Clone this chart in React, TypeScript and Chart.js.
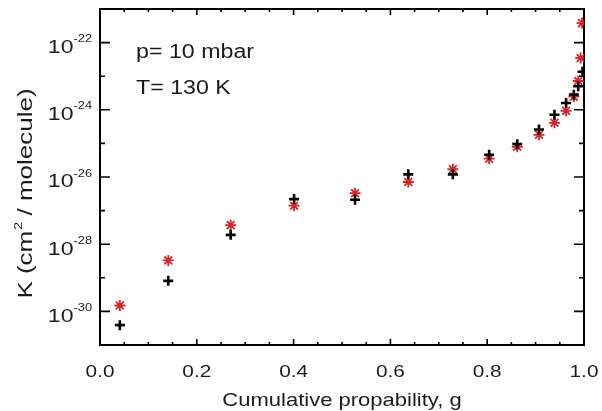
import React, { useEffect, useRef } from 'react';
import { Chart, registerables } from 'chart.js';

Chart.register(...registerables);

// Cumulative probability g (x) and absorption coefficient K (y)
const gBlack = [0.041, 0.141, 0.270, 0.401, 0.527, 0.637, 0.729, 0.804, 0.862, 0.907, 0.939, 0.963, 0.979, 0.988, 0.997];
const kBlack = [3.9e-31, 8.1e-30, 1.9e-28, 2.2e-27, 2.1e-27, 1.2e-26, 1.2e-26, 4.6e-26, 9.5e-26, 2.6e-25, 7.1e-25, 1.6e-24, 2.8e-24, 5.0e-24, 1.35e-23];
const gRed = [0.041, 0.141, 0.270, 0.401, 0.527, 0.637, 0.729, 0.804, 0.862, 0.907, 0.939, 0.963, 0.979, 0.988, 0.993, 0.996];
const kRed = [1.5e-30, 3.3e-29, 3.7e-28, 1.4e-27, 3.3e-27, 7.1e-27, 1.7e-26, 3.5e-26, 7.9e-26, 1.8e-25, 4.1e-25, 9.3e-25, 2.45e-24, 7.2e-24, 3.5e-23, 3.8e-22];

const xTickLabels = ['0.0', '0.2', '0.4', '0.6', '0.8', '1.0'];
const yExponents = [-31, -30, -29, -28, -27, -26, -25, -24, -23, -22, -21];
const yLabelExponents = [-30, -28, -26, -24, -22];
const annotationLines = ['p= 10 mbar', 'T= 130 K'];
const xTitle = 'Cumulative propability, g';
const yTitleParts = ['K (cm', '2', ' / molecule)'];

const FONT = '"Liberation Sans", Arial, Helvetica, sans-serif';
const TEXT = '#1c1c1c';
const RED = '#d8242a';

// draws text widened horizontally by factor k (the reference uses a wide sans face)
function wideText(ctx: CanvasRenderingContext2D, text: string, x: number, y: number, k: number, align: CanvasTextAlign) {
  ctx.save();
  ctx.translate(x, y);
  ctx.scale(k, 1);
  ctx.textAlign = align;
  ctx.fillText(text, 0, 0);
  ctx.restore();
  return ctx.measureText(text).width * k;
}

const framePlugin = {
  id: 'framePlugin',
  beforeDatasetsDraw(chart: any) {
    const { ctx, chartArea: a, scales } = chart;
    const x = scales.x;
    const y = scales.y;
    ctx.save();
    ctx.strokeStyle = '#000';
    ctx.lineWidth = 2;
    ctx.strokeRect(a.left, a.top, a.right - a.left, a.bottom - a.top);
    ctx.lineWidth = 1.6;
    ctx.beginPath();
    for (let i = 0; i <= 20; i++) {
      const px = x.getPixelForValue(i * 0.05);
      const len = i % 4 === 0 ? 6 : 3;
      ctx.moveTo(px, a.bottom);
      ctx.lineTo(px, a.bottom - len);
      ctx.moveTo(px, a.top);
      ctx.lineTo(px, a.top + len);
    }
    yExponents.forEach((e) => {
      const py = y.getPixelForValue(Math.pow(10, e));
      const len = e % 2 === 0 ? 10 : 5;
      ctx.moveTo(a.left, py);
      ctx.lineTo(a.left + len, py);
      ctx.moveTo(a.right, py);
      ctx.lineTo(a.right - len, py);
    });
    ctx.stroke();
    ctx.restore();
  },
  afterDraw(chart: any) {
    const { ctx, chartArea: a, scales } = chart;
    const x = scales.x;
    const y = scales.y;
    ctx.save();
    ctx.fillStyle = TEXT;
    ctx.textBaseline = 'alphabetic';

    // y tick labels 10^n
    yLabelExponents.forEach((e) => {
      const py = y.getPixelForValue(Math.pow(10, e));
      const right = a.left - 8;
      ctx.font = `10.5px ${FONT}`;
      const ws = wideText(ctx, String(e), right, py - 0.5, 1.22, 'right');
      ctx.font = `18px ${FONT}`;
      wideText(ctx, '10', right - ws, py + 10.3, 1.28, 'right');
    });

    // x tick labels
    ctx.font = `16.5px ${FONT}`;
    xTickLabels.forEach((t) => {
      const px = x.getPixelForValue(parseFloat(t));
      wideText(ctx, t, px, 377, 1.26, 'center');
    });

    // x title
    ctx.font = `18.5px ${FONT}`;
    wideText(ctx, xTitle, (a.left + a.right) / 2, 406, 1.19, 'center');

    // y title (rotated)
    ctx.save();
    ctx.translate(32, 193.5);
    ctx.rotate(-Math.PI / 2);
    const k = 1.3;
    ctx.font = `20px ${FONT}`;
    const w1 = ctx.measureText(yTitleParts[0]).width * k;
    const w3 = ctx.measureText(yTitleParts[2]).width * k;
    ctx.font = `11px ${FONT}`;
    const w2 = ctx.measureText(yTitleParts[1]).width * k;
    let sx = -(w1 + w2 + w3) / 2;
    ctx.font = `20px ${FONT}`;
    wideText(ctx, yTitleParts[0], sx, 0, k, 'left');
    sx += w1;
    ctx.font = `11px ${FONT}`;
    wideText(ctx, yTitleParts[1], sx + 1, -10, k, 'left');
    sx += w2;
    ctx.font = `20px ${FONT}`;
    wideText(ctx, yTitleParts[2], sx, 0, k, 'left');
    ctx.restore();

    // annotations
    ctx.font = `19.5px ${FONT}`;
    annotationLines.forEach((t, i) => {
      wideText(ctx, t, a.left + 36, a.top + 49 + i * 36, 1.19, 'left');
    });
    ctx.restore();
  },
};

export default function App() {
  const ref = useRef<HTMLCanvasElement | null>(null);
  useEffect(() => {
    if (!ref.current) return;
    const chart = new Chart(ref.current, {
      type: 'scatter',
      data: {
        datasets: [
          {
            label: 'black',
            data: gBlack.map((g, i) => ({ x: g, y: kBlack[i] })),
            pointStyle: 'cross',
            radius: 5,
            borderWidth: 2.6,
            borderColor: '#000',
            backgroundColor: '#000',
          },
          {
            label: 'red',
            data: gRed.map((g, i) => ({ x: g, y: kRed[i] })),
            pointStyle: 'star',
            radius: 5.5,
            borderWidth: 1.8,
            borderColor: RED,
            backgroundColor: RED,
          },
        ],
      },
      options: {
        animation: false,
        responsive: false,
        devicePixelRatio: 1,
        layout: { padding: { left: 0, top: 9, right: 18, bottom: 0 } },
        plugins: { legend: { display: false }, tooltip: { enabled: false } },
        scales: {
          x: {
            type: 'linear',
            min: 0,
            max: 1,
            grid: { display: false, drawTicks: false },
            border: { display: false },
            afterBuildTicks: (s: any) => {
              s.ticks = xTickLabels.map((t) => ({ value: parseFloat(t) }));
            },
            ticks: { display: false },
            afterFit: (s: any) => {
              s.height = 66;
              s.paddingLeft = 0;
              s.paddingRight = 0;
            },
          },
          y: {
            type: 'logarithmic',
            min: 1e-31,
            max: 1e-21,
            grid: { display: false, drawTicks: false },
            border: { display: false },
            afterBuildTicks: (s: any) => {
              s.ticks = yExponents.map((e) => ({ value: Math.pow(10, e) }));
            },
            ticks: { display: false },
            afterFit: (s: any) => {
              s.width = 100;
              s.paddingTop = 0;
              s.paddingBottom = 0;
            },
          },
        },
      },
      plugins: [framePlugin],
    });
    return () => chart.destroy();
  }, []);
  return (
    <div style={{ position: 'absolute', left: 0, top: 0, width: 602, height: 411, background: '#fff' }}>
      <canvas ref={ref} width={602} height={411} />
    </div>
  );
}
